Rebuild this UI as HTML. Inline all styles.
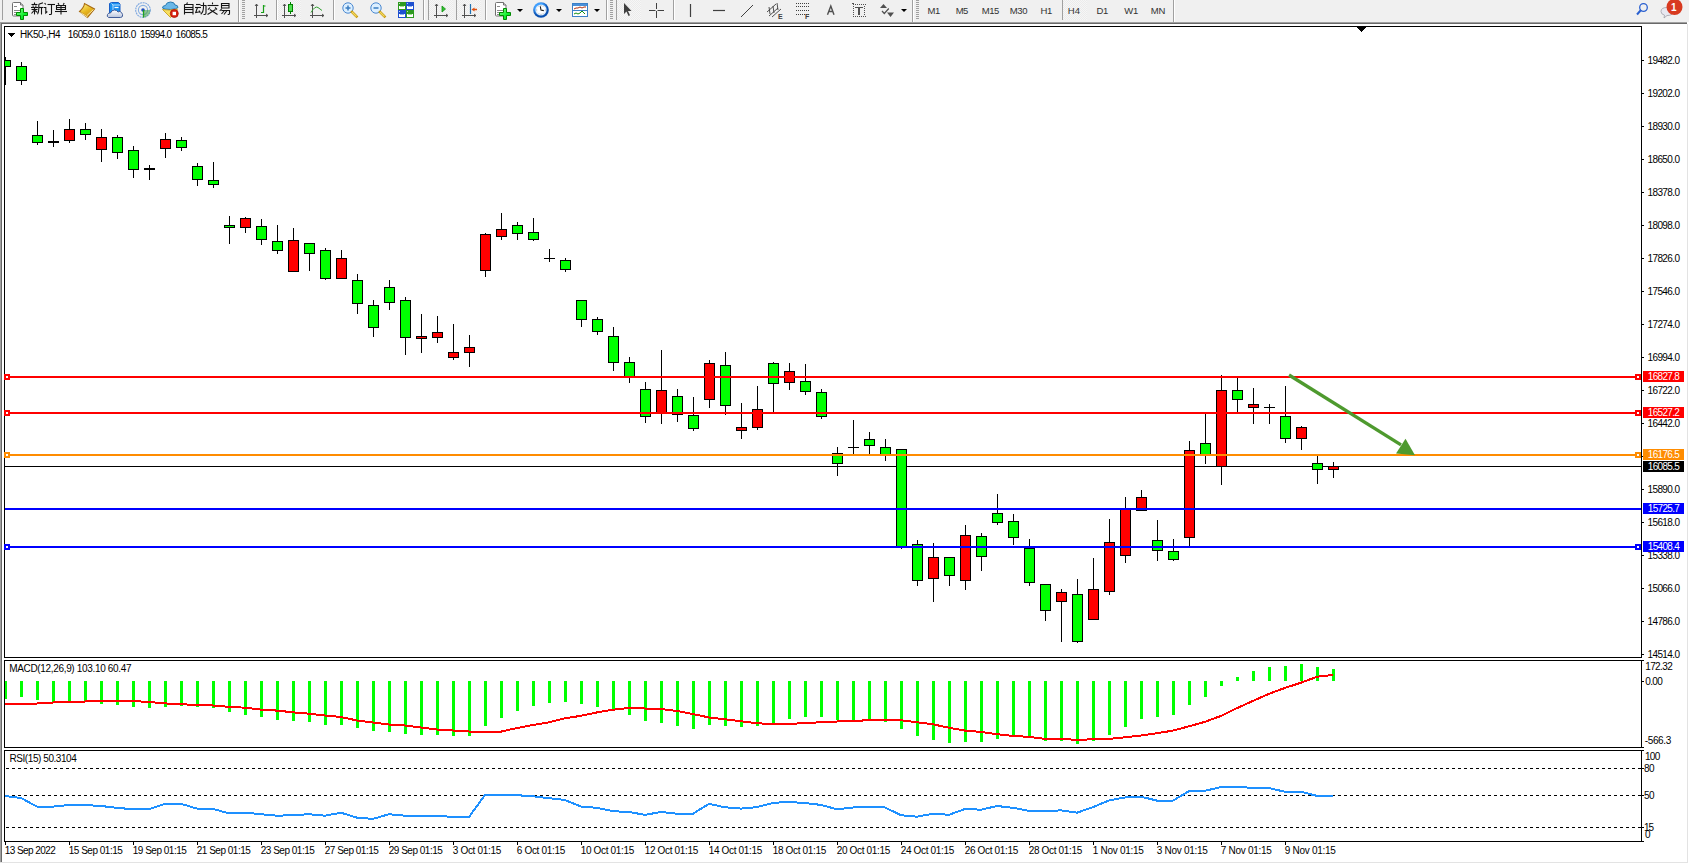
<!DOCTYPE html>
<html><head><meta charset="utf-8"><title>MT4 HK50 H4</title>
<style>
html,body{margin:0;padding:0;background:#f0f0f0;width:1689px;height:864px;overflow:hidden;}
svg{display:block;}
text{font-family:"Liberation Sans",sans-serif;}
</style></head><body>
<svg width="1689" height="864" viewBox="0 0 1689 864">
<rect x="0" y="0" width="1689" height="22" fill="#f0f0f0"/>
<defs><pattern id="chk" width="2" height="2" patternUnits="userSpaceOnUse"><rect width="2" height="2" fill="#f6f6f6"/><rect width="1" height="1" fill="#ebebeb"/><rect x="1" y="1" width="1" height="1" fill="#ebebeb"/></pattern><linearGradient id="gplus" x1="0" y1="0" x2="1" y2="1"><stop offset="0" stop-color="#90ff90"/><stop offset="0.6" stop-color="#10f030"/><stop offset="1" stop-color="#00c020"/></linearGradient><linearGradient id="gold" x1="0.2" y1="0" x2="0.8" y2="1"><stop offset="0" stop-color="#fff080"/><stop offset="0.5" stop-color="#e8b820"/><stop offset="1" stop-color="#c88810"/></linearGradient><linearGradient id="cloud" x1="0" y1="0" x2="0" y2="1"><stop offset="0" stop-color="#ffffff"/><stop offset="1" stop-color="#b8c4dc"/></linearGradient><radialGradient id="ring" cx="0.4" cy="0.35"><stop offset="0.6" stop-color="#40a0ff"/><stop offset="1" stop-color="#0a50b0"/></radialGradient><radialGradient id="gclock"><stop offset="0.6" stop-color="#ffffff"/><stop offset="1" stop-color="#d0e4f8"/></radialGradient></defs>
<rect x="2" y="0" width="1" height="20" fill="#a0a0a0"/>
<path d="M12.5,3.5 q0,-1 1,-1 h7 l2.5,2.5 v10 q0,1 -1,1 h-8.5 q-1,0 -1,-1 z" fill="#fff" stroke="#707070" stroke-width="1"/>
<path d="M20.5,2.5 v2.5 h2.5" fill="#e0e0e0" stroke="#707070" stroke-width="1"/>
<path d="M14,6.5 h3 M14,10.5 h6 M14,12.5 h5 M14,14.5 h3" stroke="#8a8a8a" stroke-width="1"/>
<path d="M20.5,8.5 h3 v4 h4 v3 h-4 v4 h-3 v-4 h-4 v-3 h4 z" fill="url(#gplus)" stroke="#008a00" stroke-width="1"/>
<g fill="none" stroke="#141414" stroke-width="1.1" stroke-linecap="butt">
<path d="M34.5,2.5 v1.5"/>
<path d="M31.5,4.5 h6"/>
<path d="M32.8,5.5 l0.6,1.3 M36.2,5.5 l-0.6,1.3"/>
<path d="M31,7.5 h7"/>
<path d="M31.5,9.5 h6"/>
<path d="M34.5,7.5 v7"/>
<path d="M34,10.5 l-2.5,3 M35,10.5 l2.5,2"/>
<path d="M43,2.8 l-4.2,1.5"/>
<path d="M38.8,4.2 v4.5 q0,3.5 -1.3,5.5"/>
<path d="M38.8,7.5 h4.7"/>
<path d="M41.5,7.5 v7"/>
</g>
<g fill="none" stroke="#141414" stroke-width="1.1" stroke-linecap="butt">
<path d="M44.6,3 l1.2,1.5"/>
<path d="M44,7.5 h1.8 v5.5 l1.5,-1.5"/>
<path d="M47.5,4.5 h7.5"/>
<path d="M51.5,4.5 v9 q0,1 -1,1 h-1.5"/>
</g>
<g fill="none" stroke="#141414" stroke-width="1.1" stroke-linecap="butt">
<path d="M58,3 l1,1.8 M64.2,3 l-1,1.8"/>
<path d="M56.5,5.5 h9 v4 h-9 z"/>
<path d="M56.5,7.5 h9"/>
<path d="M55,11.5 h12"/>
<path d="M61,5.5 v9"/>
</g>
<path d="M84.5,3.5 q-0.5,4 -5,8 l8,6 l7,-8.5 z" fill="url(#gold)" stroke="#a86a10" stroke-width="1.1"/>
<path d="M80.5,12.5 l7,4.5 M87,15.5 l6.5,-6" fill="none" stroke="#f8e8a0" stroke-width="1"/>
<path d="M109.5,3.5 l2,-1 h7 l1.5,1.5 v9 h-10.5 z" fill="#1a90f0" stroke="#1a60c8" stroke-width="1"/>
<path d="M111.5,3.5 l1.5,1.5 v8 M113,5 h7" fill="none" stroke="#c8e8ff" stroke-width="0.9"/>
<path d="M114.5,7.5 h4" stroke="#ffffff" stroke-width="1.2"/>
<path d="M108.5,17.5 q-2,-1 -1,-3 q1,-2 3,-1.5 q1,-3 4,-3 q2.5,0 3.5,2 q2,-1.5 3.5,0.5 q1.5,2 1,3.5 q-0.5,1.5 -2,1.5 z" fill="url(#cloud)" stroke="#405c98" stroke-width="1"/>
<circle cx="143" cy="10" r="7.3" fill="none" stroke="#7fa8e0" stroke-width="1.1" stroke-dasharray="2,0.6"/>
<circle cx="143" cy="10" r="4.6" fill="none" stroke="#88b0e0" stroke-width="1.1"/>
<path d="M143,10 v7.5 a7.5,7.5 0 0,0 7.3,-7.5 z" fill="#3aa040" opacity="0.55"/>
<circle cx="143" cy="10" r="1.8" fill="#2050c0"/>
<path d="M143.5,10 v7.5" stroke="#20a020" stroke-width="1.3"/>
<path d="M162.5,8 q0,-2.5 3,-2.5 q1,-3.5 5,-3.5 q4,0 4.5,3 q3,0 3,2.5 q-1,1.5 -7.5,2 q-7,0 -8,-1.5 z" fill="#6ab8e8" stroke="#2a7ab0" stroke-width="1"/>
<path d="M162.5,9.5 q6,1.5 15,-0.5 l-7,8.5 z" fill="#f8e060" stroke="#c8a020" stroke-width="0.9"/>
<circle cx="174.3" cy="13.5" r="4" fill="#d82010" stroke="#b01000" stroke-width="0.8"/><rect x="172.6" y="11.8" width="3.4" height="3.4" fill="#fff"/>
<g fill="none" stroke="#141414" stroke-width="1.1" stroke-linecap="butt">
<path d="M187.5,2.5 l-0.8,1.6"/>
<path d="M184.5,4.5 h8.5 v10 M184.5,4.5 v10"/>
<path d="M184.5,7.5 h8.5"/>
<path d="M184.5,9.5 h8.5"/>
<path d="M184.5,12.5 h8.5"/>
</g>
<g fill="none" stroke="#141414" stroke-width="1.1" stroke-linecap="butt">
<path d="M196,4.5 h4.5"/>
<path d="M195,7.5 h6"/>
<path d="M197.5,7.5 l-1.8,5 l4.5,-0.8"/>
<path d="M199,10.5 l1.3,2.2"/>
<path d="M200.5,5.5 h5.5 v7.5 q0,1.5 -1.5,1.5 h-1"/>
<path d="M203.5,2.5 v4.5 q0,5 -2.8,7.2"/>
</g>
<g fill="none" stroke="#141414" stroke-width="1.1" stroke-linecap="butt">
<path d="M212.5,2.5 v1.8"/>
<path d="M207.5,5.5 h11"/>
<path d="M210,7.5 l-2,2.2"/>
<path d="M215,7.5 l2,2"/>
<path d="M209.8,9.5 l7.7,5"/>
<path d="M215.5,9.5 l-8,5"/>
</g>
<g fill="none" stroke="#141414" stroke-width="1.1" stroke-linecap="butt">
<path d="M221.5,3.5 h7.5 v4.5 h-7.5 z"/>
<path d="M221.5,5.5 h7.5"/>
<path d="M222,8.5 l-2.3,2.5"/>
<path d="M221.3,10.5 h8.2 v3 q0,1 -1,1 h-0.8"/>
<path d="M224.5,10.5 l-3,3.5"/>
<path d="M227,10.5 l-3,4"/>
</g>
<rect x="238" y="0" width="1" height="22" fill="#a0a0a0"/>
<rect x="239" y="0" width="1" height="22" fill="#ffffff"/>
<rect x="242" y="0" width="3" height="1" fill="#a0a0a0"/>
<rect x="242" y="2" width="3" height="1" fill="#a0a0a0"/>
<rect x="242" y="4" width="3" height="1" fill="#a0a0a0"/>
<rect x="242" y="6" width="3" height="1" fill="#a0a0a0"/>
<rect x="242" y="8" width="3" height="1" fill="#a0a0a0"/>
<rect x="242" y="10" width="3" height="1" fill="#a0a0a0"/>
<rect x="242" y="12" width="3" height="1" fill="#a0a0a0"/>
<rect x="242" y="14" width="3" height="1" fill="#a0a0a0"/>
<rect x="242" y="16" width="3" height="1" fill="#a0a0a0"/>
<rect x="242" y="18" width="3" height="1" fill="#a0a0a0"/>
<path d="M256.5,4 v14 M254,15.5 h14" stroke="#505050" stroke-width="1"/>
<path d="M255,6 l1.5,-2 l1.5,2 M266,14 l2,1.5 l-2,1.5" fill="#505050" stroke="#505050" stroke-width="0.8"/>
<path d="M263.5,5 v8 M263.5,6 h2 M261,12.5 h2.5" stroke="#18a018" stroke-width="1.2"/>
<rect x="276" y="0" width="1" height="20" fill="#a0a0a0"/>
<rect x="277" y="0" width="1" height="20" fill="#ffffff"/>
<rect x="278" y="0" width="23" height="20" fill="url(#chk)"/>
<path d="M284.5,4 v14 M282,15.5 h14" stroke="#505050" stroke-width="1"/>
<path d="M283,6 l1.5,-2 l1.5,2 M294,14 l2,1.5 l-2,1.5" fill="#505050" stroke="#505050" stroke-width="0.8"/>
<path d="M290.5,2 v12" stroke="#008000" stroke-width="1"/><rect x="288.5" y="4.5" width="4" height="7" fill="#50e050" stroke="#008000" stroke-width="1"/>
<path d="M312.5,4 v14 M310,15.5 h14" stroke="#505050" stroke-width="1"/>
<path d="M311,6 l1.5,-2 l1.5,2 M322,14 l2,1.5 l-2,1.5" fill="#505050" stroke="#505050" stroke-width="0.8"/>
<path d="M311,12.5 q4,-7 7,-5 q2,1.5 4,3" fill="none" stroke="#30a030" stroke-width="1"/>
<rect x="333" y="0" width="1" height="20" fill="#a0a0a0"/>
<rect x="334" y="0" width="1" height="20" fill="#ffffff"/>
<circle cx="348" cy="8" r="5.2" fill="#dcefff" stroke="#4a88d0" stroke-width="1"/>
<path d="M352,12 l4.5,4.5" stroke="#c89a10" stroke-width="2.6" stroke-linecap="square"/>
<path d="M352,12 l4.5,4.5" stroke="#f0d860" stroke-width="1.2"/>
<path d="M345.5,8 h5" stroke="#3a7cc0" stroke-width="1.5"/>
<path d="M348,5.5 v5" stroke="#3a7cc0" stroke-width="1.5"/>
<circle cx="376" cy="8" r="5.2" fill="#dcefff" stroke="#4a88d0" stroke-width="1"/>
<path d="M380,12 l4.5,4.5" stroke="#c89a10" stroke-width="2.6" stroke-linecap="square"/>
<path d="M380,12 l4.5,4.5" stroke="#f0d860" stroke-width="1.2"/>
<path d="M373.5,8 h5" stroke="#3a7cc0" stroke-width="1.5"/>
<rect x="398" y="2" width="8" height="8" fill="#2e9a20"/><rect x="399" y="6" width="6" height="3" fill="#ffffff"/><rect x="400" y="6" width="4" height="1" fill="#a0e090"/><rect x="399" y="3" width="1" height="1" fill="#ffffff" opacity="0.7"/>
<rect x="406" y="2" width="8" height="8" fill="#1e50d0"/><rect x="407" y="6" width="6" height="3" fill="#ffffff"/><rect x="408" y="6" width="4" height="1" fill="#90b0f0"/><rect x="407" y="3" width="1" height="1" fill="#ffffff" opacity="0.7"/>
<rect x="398" y="10" width="8" height="8" fill="#1e50d0"/><rect x="399" y="14" width="6" height="3" fill="#ffffff"/><rect x="400" y="14" width="4" height="1" fill="#90b0f0"/><rect x="399" y="11" width="1" height="1" fill="#ffffff" opacity="0.7"/>
<rect x="406" y="10" width="8" height="8" fill="#2e9a20"/><rect x="407" y="14" width="6" height="3" fill="#ffffff"/><rect x="408" y="14" width="4" height="1" fill="#a0e090"/><rect x="407" y="11" width="1" height="1" fill="#ffffff" opacity="0.7"/>
<rect x="423" y="0" width="1" height="20" fill="#a0a0a0"/>
<rect x="424" y="0" width="1" height="20" fill="#ffffff"/>
<rect x="428" y="0" width="1" height="20" fill="#a0a0a0"/>
<rect x="429" y="0" width="24" height="20" fill="url(#chk)"/>
<path d="M436.5,4 v14 M434,15.5 h14" stroke="#505050" stroke-width="1"/>
<path d="M435,6 l1.5,-2 l1.5,2 M446,14 l2,1.5 l-2,1.5" fill="#505050" stroke="#505050" stroke-width="0.8"/>
<path d="M442,6 l3.5,3 l-3.5,3 z" fill="#30c030" stroke="#109010" stroke-width="0.8"/>
<rect x="456" y="0" width="1" height="20" fill="#a0a0a0"/>
<rect x="457" y="0" width="24" height="20" fill="url(#chk)"/>
<path d="M464.5,4 v14 M462,15.5 h14" stroke="#505050" stroke-width="1"/>
<path d="M463,6 l1.5,-2 l1.5,2 M474,14 l2,1.5 l-2,1.5" fill="#505050" stroke="#505050" stroke-width="0.8"/>
<path d="M470.5,4 v10" stroke="#2070b0" stroke-width="1.2"/><path d="M471.5,9.5 l3,-2 v1.2 h2.5 v1.6 h-2.5 v1.2 z" fill="#e05010"/>
<rect x="485" y="0" width="1" height="20" fill="#a0a0a0"/>
<rect x="486" y="0" width="1" height="20" fill="#ffffff"/>
<path d="M495.5,3.5 q0,-1 1,-1 h7 l2.5,2.5 v10 q0,1 -1,1 h-8.5 q-1,0 -1,-1 z" fill="#fff" stroke="#707070" stroke-width="1"/>
<path d="M503.5,2.5 v2.5 h2.5" fill="#e0e0e0" stroke="#707070" stroke-width="1"/>
<path d="M497,6.5 h3 M497,10.5 h6 M497,12.5 h5 M497,14.5 h3" stroke="#8a8a8a" stroke-width="1"/>
<path d="M503.5,8.5 h3 v4 h4 v3 h-4 v4 h-3 v-4 h-4 v-3 h4 z" fill="url(#gplus)" stroke="#008a00" stroke-width="1"/>
<polygon points="517,9 523,9 520,12" fill="#000"/>
<circle cx="541" cy="10" r="7.8" fill="url(#ring)"/><circle cx="541" cy="10" r="5.6" fill="url(#gclock)"/>
<path d="M541,5.2 v1 M541,13.8 v1 M536.2,10 h1 M544.8,10 h1 M538.5,5.8 l0.4,0.7 M543.5,5.8 l-0.4,0.7 M538.5,14.2 l0.4,-0.7 M543.5,14.2 l-0.4,-0.7" stroke="#909090" stroke-width="0.7"/>
<path d="M540.3,6.3 l0.7,3.7 l2.8,0.6" stroke="#181818" stroke-width="1.1" fill="none"/>
<polygon points="556,9 562,9 559,12" fill="#000"/>
<rect x="572.5" y="3.5" width="15" height="13" fill="#fff" stroke="#3a80c8" stroke-width="1"/><rect x="573" y="4" width="14" height="2" fill="#4a90d8"/><rect x="573" y="10" width="14" height="1" fill="#3a80c8"/>
<path d="M574,9 l2,-1 l2,0 l2,-1 l2,1 l2,-1 l2,0" fill="none" stroke="#b03010" stroke-width="1"/>
<path d="M574,14 l2,-1 l2,1 l2,-1 l2,-2 l3,3" fill="none" stroke="#109010" stroke-width="1"/>
<polygon points="594,9 600,9 597,12" fill="#000"/>
<rect x="606" y="0" width="1" height="20" fill="#a0a0a0"/>
<rect x="607" y="0" width="1" height="20" fill="#ffffff"/>
<rect x="610" y="0" width="3" height="1" fill="#a0a0a0"/>
<rect x="610" y="2" width="3" height="1" fill="#a0a0a0"/>
<rect x="610" y="4" width="3" height="1" fill="#a0a0a0"/>
<rect x="610" y="6" width="3" height="1" fill="#a0a0a0"/>
<rect x="610" y="8" width="3" height="1" fill="#a0a0a0"/>
<rect x="610" y="10" width="3" height="1" fill="#a0a0a0"/>
<rect x="610" y="12" width="3" height="1" fill="#a0a0a0"/>
<rect x="610" y="14" width="3" height="1" fill="#a0a0a0"/>
<rect x="610" y="16" width="3" height="1" fill="#a0a0a0"/>
<rect x="610" y="18" width="3" height="1" fill="#a0a0a0"/>
<rect x="616" y="0" width="1" height="20" fill="#a0a0a0"/>
<rect x="617" y="0" width="24" height="20" fill="url(#chk)"/>
<path d="M624,3 v11 l2.5,-2.5 l2,4.5 l1.5,-0.8 l-2,-4.3 h3.5 z" fill="#404040"/>
<path d="M656.5,3 v6 M656.5,11 v7 M649,10.5 h6.5 M657.5,10.5 h6.5" stroke="#404040" stroke-width="1"/>
<rect x="673" y="0" width="1" height="20" fill="#a0a0a0"/>
<rect x="674" y="0" width="1" height="20" fill="#ffffff"/>
<path d="M690.5,4 v13" stroke="#404040" stroke-width="1.2"/>
<path d="M713,10.5 h12" stroke="#404040" stroke-width="1.2"/>
<path d="M741,17 l12,-12" stroke="#404040" stroke-width="1"/>
<path d="M767,12 l9,-8 M769,16 l9,-8 M772,17 l9,-8 M769,7 l1,7 M773,6 l1,7 M777,3 l1,7" stroke="#404040" stroke-width="0.9"/>
<text x="778" y="19" font-family="'Liberation Sans', sans-serif" font-size="7" font-weight="bold" fill="#404040">E</text>
<path d="M796,3.5 h13" stroke="#404040" stroke-width="1" stroke-dasharray="1,1"/>
<path d="M796,6.5 h13" stroke="#404040" stroke-width="1" stroke-dasharray="1,1"/>
<path d="M796,10.5 h13" stroke="#404040" stroke-width="1" stroke-dasharray="1,1"/>
<path d="M796,14.5 h13" stroke="#404040" stroke-width="1" stroke-dasharray="1,1"/>
<text x="805" y="19" font-family="'Liberation Sans', sans-serif" font-size="7" font-weight="bold" fill="#404040">F</text>
<path d="M827.5,14.8 L830.8,6 L834,14.8 M828.8,11.5 h4" fill="none" stroke="#505050" stroke-width="1.4"/>
<rect x="853" y="4" width="1" height="1" fill="#505050"/>
<rect x="853" y="16" width="1" height="1" fill="#505050"/>
<rect x="855" y="4" width="1" height="1" fill="#505050"/>
<rect x="855" y="16" width="1" height="1" fill="#505050"/>
<rect x="857" y="4" width="1" height="1" fill="#505050"/>
<rect x="857" y="16" width="1" height="1" fill="#505050"/>
<rect x="859" y="4" width="1" height="1" fill="#505050"/>
<rect x="859" y="16" width="1" height="1" fill="#505050"/>
<rect x="861" y="4" width="1" height="1" fill="#505050"/>
<rect x="861" y="16" width="1" height="1" fill="#505050"/>
<rect x="863" y="4" width="1" height="1" fill="#505050"/>
<rect x="863" y="16" width="1" height="1" fill="#505050"/>
<rect x="865" y="4" width="1" height="1" fill="#505050"/>
<rect x="865" y="16" width="1" height="1" fill="#505050"/>
<rect x="853" y="6" width="1" height="1" fill="#505050"/>
<rect x="864" y="6" width="1" height="1" fill="#505050"/>
<rect x="853" y="8" width="1" height="1" fill="#505050"/>
<rect x="864" y="8" width="1" height="1" fill="#505050"/>
<rect x="853" y="10" width="1" height="1" fill="#505050"/>
<rect x="864" y="10" width="1" height="1" fill="#505050"/>
<rect x="853" y="12" width="1" height="1" fill="#505050"/>
<rect x="864" y="12" width="1" height="1" fill="#505050"/>
<rect x="853" y="14" width="1" height="1" fill="#505050"/>
<rect x="864" y="14" width="1" height="1" fill="#505050"/>
<rect x="852" y="3" width="2" height="1" fill="#505050"/>
<rect x="855" y="7" width="8" height="1" fill="#505050"/>
<rect x="858" y="7" width="2" height="8" fill="#505050"/>
<path d="M880,8 l3.5,-4 l3.5,4 z M887,12.5 l3.5,4.5 l3.5,-4.5 z" fill="#505050"/><path d="M882,11 l2.3,2.5 l4.5,-5" fill="none" stroke="#505050" stroke-width="1.2"/>
<polygon points="901,9 907,9 904,12" fill="#000"/>
<rect x="912" y="0" width="1" height="22" fill="#a0a0a0"/>
<rect x="913" y="0" width="1" height="22" fill="#ffffff"/>
<rect x="916" y="0" width="3" height="1" fill="#a0a0a0"/>
<rect x="916" y="2" width="3" height="1" fill="#a0a0a0"/>
<rect x="916" y="4" width="3" height="1" fill="#a0a0a0"/>
<rect x="916" y="6" width="3" height="1" fill="#a0a0a0"/>
<rect x="916" y="8" width="3" height="1" fill="#a0a0a0"/>
<rect x="916" y="10" width="3" height="1" fill="#a0a0a0"/>
<rect x="916" y="12" width="3" height="1" fill="#a0a0a0"/>
<rect x="916" y="14" width="3" height="1" fill="#a0a0a0"/>
<rect x="916" y="16" width="3" height="1" fill="#a0a0a0"/>
<rect x="916" y="18" width="3" height="1" fill="#a0a0a0"/>
<text x="927.6" y="14" font-family="'Liberation Sans', sans-serif" font-size="9.5" fill="#333" textLength="12.6" lengthAdjust="spacing">M1</text>
<text x="955.7" y="14" font-family="'Liberation Sans', sans-serif" font-size="9.5" fill="#333" textLength="12.7" lengthAdjust="spacing">M5</text>
<text x="981.8" y="14" font-family="'Liberation Sans', sans-serif" font-size="9.5" fill="#333" textLength="17.5" lengthAdjust="spacing">M15</text>
<text x="1009.7" y="14" font-family="'Liberation Sans', sans-serif" font-size="9.5" fill="#333" textLength="17.8" lengthAdjust="spacing">M30</text>
<text x="1040.6" y="14" font-family="'Liberation Sans', sans-serif" font-size="9.5" fill="#333" textLength="11.6" lengthAdjust="spacing">H1</text>
<rect x="1062" y="0" width="1" height="20" fill="#a0a0a0"/>
<rect x="1063" y="0" width="24" height="20" fill="url(#chk)"/>
<text x="1067.8" y="14" font-family="'Liberation Sans', sans-serif" font-size="9.5" fill="#333" textLength="12.2" lengthAdjust="spacing">H4</text>
<text x="1096.6" y="14" font-family="'Liberation Sans', sans-serif" font-size="9.5" fill="#333" textLength="11.7" lengthAdjust="spacing">D1</text>
<text x="1124.3" y="14" font-family="'Liberation Sans', sans-serif" font-size="9.5" fill="#333" textLength="14.0" lengthAdjust="spacing">W1</text>
<text x="1150.8" y="14" font-family="'Liberation Sans', sans-serif" font-size="9.5" fill="#333" textLength="14.5" lengthAdjust="spacing">MN</text>
<rect x="1173" y="0" width="1" height="22" fill="#a0a0a0"/>
<rect x="1174" y="0" width="1" height="22" fill="#ffffff"/>
<circle cx="1643.5" cy="7.5" r="3.8" fill="none" stroke="#2a60d0" stroke-width="1.3"/><path d="M1641,10 l-4,4.5" stroke="#2a60d0" stroke-width="2"/>
<path d="M1661,11.5 q0,-4 6,-4 q6,0 6,4 q0,4 -6,4 l-3,2.5 l0.5,-2.8 q-3.5,-1 -3.5,-3.7 z" fill="#e8e8f0" stroke="#a0a0a8" stroke-width="0.8"/>
<circle cx="1674.5" cy="7" r="8" fill="#d83a20"/>
<text x="1671" y="11" font-family="'Liberation Sans', sans-serif" font-size="10" font-weight="bold" fill="#fff">1</text>
<rect x="0" y="22" width="1689" height="842" fill="#ffffff"/>
<rect x="0" y="22" width="1687" height="1" fill="#a0a0a0"/>
<rect x="0" y="23" width="1687" height="1" fill="#696969"/>
<rect x="0" y="22" width="1" height="840" fill="#a0a0a0"/>
<rect x="1" y="23" width="1" height="839" fill="#696969"/>
<rect x="1687" y="24" width="1" height="839" fill="#e3e3e3"/>
<rect x="0" y="862" width="1688" height="1" fill="#e3e3e3"/>
<rect x="4" y="26" width="1638" height="1" fill="#000"/>
<rect x="4" y="657" width="1638" height="1" fill="#000"/>
<rect x="4" y="26" width="1" height="632" fill="#000"/>
<rect x="1641" y="26" width="1" height="632" fill="#000"/>
<rect x="4" y="660" width="1638" height="1" fill="#000"/>
<rect x="4" y="747" width="1638" height="1" fill="#000"/>
<rect x="4" y="660" width="1" height="88" fill="#000"/>
<rect x="1641" y="660" width="1" height="88" fill="#000"/>
<rect x="4" y="750" width="1638" height="1" fill="#000"/>
<rect x="4" y="841" width="1638" height="1" fill="#000"/>
<rect x="4" y="750" width="1" height="92" fill="#000"/>
<rect x="1641" y="750" width="1" height="92" fill="#000"/>
<defs><clipPath id="cm"><rect x="5" y="27" width="1636" height="630"/></clipPath><clipPath id="cmacd"><rect x="5" y="661" width="1636" height="86"/></clipPath><clipPath id="crsi"><rect x="5" y="751" width="1636" height="90"/></clipPath></defs>
<g clip-path="url(#cm)">
<rect x="5" y="466" width="1636" height="1" fill="#000"/>
<rect x="5" y="57" width="1" height="28" fill="#000"/>
<rect x="0" y="60" width="11" height="7" fill="#000"/>
<rect x="1" y="61" width="9" height="5" fill="#00ff00"/>
<rect x="21" y="62" width="1" height="23" fill="#000"/>
<rect x="16" y="66" width="11" height="15" fill="#000"/>
<rect x="17" y="67" width="9" height="13" fill="#00ff00"/>
<rect x="37" y="121" width="1" height="24" fill="#000"/>
<rect x="32" y="135" width="11" height="8" fill="#000"/>
<rect x="33" y="136" width="9" height="6" fill="#00ff00"/>
<rect x="53" y="130" width="1" height="17" fill="#000"/>
<rect x="48" y="141" width="11" height="2" fill="#000"/>
<rect x="69" y="119" width="1" height="24" fill="#000"/>
<rect x="64" y="129" width="11" height="12" fill="#000"/>
<rect x="65" y="130" width="9" height="10" fill="#ff0000"/>
<rect x="85" y="123" width="1" height="17" fill="#000"/>
<rect x="80" y="129" width="11" height="6" fill="#000"/>
<rect x="81" y="130" width="9" height="4" fill="#00ff00"/>
<rect x="101" y="129" width="1" height="33" fill="#000"/>
<rect x="96" y="137" width="11" height="13" fill="#000"/>
<rect x="97" y="138" width="9" height="11" fill="#ff0000"/>
<rect x="117" y="135" width="1" height="24" fill="#000"/>
<rect x="112" y="137" width="11" height="16" fill="#000"/>
<rect x="113" y="138" width="9" height="14" fill="#00ff00"/>
<rect x="133" y="146" width="1" height="32" fill="#000"/>
<rect x="128" y="150" width="11" height="20" fill="#000"/>
<rect x="129" y="151" width="9" height="18" fill="#00ff00"/>
<rect x="149" y="165" width="1" height="15" fill="#000"/>
<rect x="144" y="168" width="11" height="2" fill="#000"/>
<rect x="165" y="133" width="1" height="25" fill="#000"/>
<rect x="160" y="139" width="11" height="10" fill="#000"/>
<rect x="161" y="140" width="9" height="8" fill="#ff0000"/>
<rect x="181" y="137" width="1" height="14" fill="#000"/>
<rect x="176" y="140" width="11" height="8" fill="#000"/>
<rect x="177" y="141" width="9" height="6" fill="#00ff00"/>
<rect x="197" y="163" width="1" height="23" fill="#000"/>
<rect x="192" y="166" width="11" height="14" fill="#000"/>
<rect x="193" y="167" width="9" height="12" fill="#00ff00"/>
<rect x="213" y="162" width="1" height="26" fill="#000"/>
<rect x="208" y="180" width="11" height="5" fill="#000"/>
<rect x="209" y="181" width="9" height="3" fill="#00ff00"/>
<rect x="229" y="216" width="1" height="28" fill="#000"/>
<rect x="224" y="225" width="11" height="3" fill="#000"/>
<rect x="225" y="226" width="9" height="1" fill="#00ff00"/>
<rect x="245" y="217" width="1" height="16" fill="#000"/>
<rect x="240" y="218" width="11" height="10" fill="#000"/>
<rect x="241" y="219" width="9" height="8" fill="#ff0000"/>
<rect x="261" y="219" width="1" height="26" fill="#000"/>
<rect x="256" y="226" width="11" height="14" fill="#000"/>
<rect x="257" y="227" width="9" height="12" fill="#00ff00"/>
<rect x="277" y="225" width="1" height="29" fill="#000"/>
<rect x="272" y="241" width="11" height="10" fill="#000"/>
<rect x="273" y="242" width="9" height="8" fill="#00ff00"/>
<rect x="293" y="228" width="1" height="44" fill="#000"/>
<rect x="288" y="240" width="11" height="32" fill="#000"/>
<rect x="289" y="241" width="9" height="30" fill="#ff0000"/>
<rect x="309" y="243" width="1" height="28" fill="#000"/>
<rect x="304" y="243" width="11" height="11" fill="#000"/>
<rect x="305" y="244" width="9" height="9" fill="#00ff00"/>
<rect x="325" y="248" width="1" height="32" fill="#000"/>
<rect x="320" y="250" width="11" height="29" fill="#000"/>
<rect x="321" y="251" width="9" height="27" fill="#00ff00"/>
<rect x="341" y="250" width="1" height="29" fill="#000"/>
<rect x="336" y="258" width="11" height="21" fill="#000"/>
<rect x="337" y="259" width="9" height="19" fill="#ff0000"/>
<rect x="357" y="274" width="1" height="40" fill="#000"/>
<rect x="352" y="280" width="11" height="24" fill="#000"/>
<rect x="353" y="281" width="9" height="22" fill="#00ff00"/>
<rect x="373" y="300" width="1" height="37" fill="#000"/>
<rect x="368" y="305" width="11" height="23" fill="#000"/>
<rect x="369" y="306" width="9" height="21" fill="#00ff00"/>
<rect x="389" y="280" width="1" height="30" fill="#000"/>
<rect x="384" y="287" width="11" height="16" fill="#000"/>
<rect x="385" y="288" width="9" height="14" fill="#00ff00"/>
<rect x="405" y="297" width="1" height="58" fill="#000"/>
<rect x="400" y="300" width="11" height="38" fill="#000"/>
<rect x="401" y="301" width="9" height="36" fill="#00ff00"/>
<rect x="421" y="314" width="1" height="39" fill="#000"/>
<rect x="416" y="336" width="11" height="3" fill="#000"/>
<rect x="417" y="337" width="9" height="1" fill="#ff0000"/>
<rect x="437" y="316" width="1" height="27" fill="#000"/>
<rect x="432" y="332" width="11" height="6" fill="#000"/>
<rect x="433" y="333" width="9" height="4" fill="#ff0000"/>
<rect x="453" y="324" width="1" height="36" fill="#000"/>
<rect x="448" y="352" width="11" height="6" fill="#000"/>
<rect x="449" y="353" width="9" height="4" fill="#ff0000"/>
<rect x="469" y="335" width="1" height="32" fill="#000"/>
<rect x="464" y="347" width="11" height="6" fill="#000"/>
<rect x="465" y="348" width="9" height="4" fill="#ff0000"/>
<rect x="485" y="233" width="1" height="44" fill="#000"/>
<rect x="480" y="234" width="11" height="37" fill="#000"/>
<rect x="481" y="235" width="9" height="35" fill="#ff0000"/>
<rect x="501" y="213" width="1" height="27" fill="#000"/>
<rect x="496" y="229" width="11" height="8" fill="#000"/>
<rect x="497" y="230" width="9" height="6" fill="#ff0000"/>
<rect x="517" y="222" width="1" height="18" fill="#000"/>
<rect x="512" y="225" width="11" height="9" fill="#000"/>
<rect x="513" y="226" width="9" height="7" fill="#00ff00"/>
<rect x="533" y="218" width="1" height="23" fill="#000"/>
<rect x="528" y="232" width="11" height="8" fill="#000"/>
<rect x="529" y="233" width="9" height="6" fill="#00ff00"/>
<rect x="549" y="249" width="1" height="13" fill="#000"/>
<rect x="544" y="258" width="11" height="1" fill="#000"/>
<rect x="565" y="258" width="1" height="14" fill="#000"/>
<rect x="560" y="260" width="11" height="10" fill="#000"/>
<rect x="561" y="261" width="9" height="8" fill="#00ff00"/>
<rect x="581" y="300" width="1" height="27" fill="#000"/>
<rect x="576" y="300" width="11" height="20" fill="#000"/>
<rect x="577" y="301" width="9" height="18" fill="#00ff00"/>
<rect x="597" y="317" width="1" height="18" fill="#000"/>
<rect x="592" y="319" width="11" height="13" fill="#000"/>
<rect x="593" y="320" width="9" height="11" fill="#00ff00"/>
<rect x="613" y="327" width="1" height="44" fill="#000"/>
<rect x="608" y="336" width="11" height="27" fill="#000"/>
<rect x="609" y="337" width="9" height="25" fill="#00ff00"/>
<rect x="629" y="357" width="1" height="26" fill="#000"/>
<rect x="624" y="362" width="11" height="16" fill="#000"/>
<rect x="625" y="363" width="9" height="14" fill="#00ff00"/>
<rect x="645" y="382" width="1" height="41" fill="#000"/>
<rect x="640" y="389" width="11" height="28" fill="#000"/>
<rect x="641" y="390" width="9" height="26" fill="#00ff00"/>
<rect x="661" y="350" width="1" height="74" fill="#000"/>
<rect x="656" y="390" width="11" height="24" fill="#000"/>
<rect x="657" y="391" width="9" height="22" fill="#ff0000"/>
<rect x="677" y="389" width="1" height="33" fill="#000"/>
<rect x="672" y="396" width="11" height="19" fill="#000"/>
<rect x="673" y="397" width="9" height="17" fill="#00ff00"/>
<rect x="693" y="397" width="1" height="34" fill="#000"/>
<rect x="688" y="415" width="11" height="14" fill="#000"/>
<rect x="689" y="416" width="9" height="12" fill="#00ff00"/>
<rect x="709" y="360" width="1" height="48" fill="#000"/>
<rect x="704" y="363" width="11" height="37" fill="#000"/>
<rect x="705" y="364" width="9" height="35" fill="#ff0000"/>
<rect x="725" y="352" width="1" height="63" fill="#000"/>
<rect x="720" y="365" width="11" height="41" fill="#000"/>
<rect x="721" y="366" width="9" height="39" fill="#00ff00"/>
<rect x="741" y="403" width="1" height="36" fill="#000"/>
<rect x="736" y="427" width="11" height="4" fill="#000"/>
<rect x="737" y="428" width="9" height="2" fill="#ff0000"/>
<rect x="757" y="386" width="1" height="44" fill="#000"/>
<rect x="752" y="409" width="11" height="19" fill="#000"/>
<rect x="753" y="410" width="9" height="17" fill="#ff0000"/>
<rect x="773" y="362" width="1" height="50" fill="#000"/>
<rect x="768" y="363" width="11" height="21" fill="#000"/>
<rect x="769" y="364" width="9" height="19" fill="#00ff00"/>
<rect x="789" y="363" width="1" height="27" fill="#000"/>
<rect x="784" y="371" width="11" height="12" fill="#000"/>
<rect x="785" y="372" width="9" height="10" fill="#ff0000"/>
<rect x="805" y="364" width="1" height="31" fill="#000"/>
<rect x="800" y="381" width="11" height="11" fill="#000"/>
<rect x="801" y="382" width="9" height="9" fill="#00ff00"/>
<rect x="821" y="389" width="1" height="30" fill="#000"/>
<rect x="816" y="392" width="11" height="25" fill="#000"/>
<rect x="817" y="393" width="9" height="23" fill="#00ff00"/>
<rect x="837" y="447" width="1" height="29" fill="#000"/>
<rect x="832" y="453" width="11" height="11" fill="#000"/>
<rect x="833" y="454" width="9" height="9" fill="#00ff00"/>
<rect x="853" y="420" width="1" height="34" fill="#000"/>
<rect x="848" y="447" width="11" height="1" fill="#000"/>
<rect x="869" y="432" width="1" height="22" fill="#000"/>
<rect x="864" y="439" width="11" height="7" fill="#000"/>
<rect x="865" y="440" width="9" height="5" fill="#00ff00"/>
<rect x="885" y="439" width="1" height="22" fill="#000"/>
<rect x="880" y="447" width="11" height="9" fill="#000"/>
<rect x="881" y="448" width="9" height="7" fill="#00ff00"/>
<rect x="901" y="449" width="1" height="100" fill="#000"/>
<rect x="896" y="449" width="11" height="98" fill="#000"/>
<rect x="897" y="450" width="9" height="96" fill="#00ff00"/>
<rect x="917" y="540" width="1" height="46" fill="#000"/>
<rect x="912" y="544" width="11" height="37" fill="#000"/>
<rect x="913" y="545" width="9" height="35" fill="#00ff00"/>
<rect x="933" y="543" width="1" height="59" fill="#000"/>
<rect x="928" y="557" width="11" height="22" fill="#000"/>
<rect x="929" y="558" width="9" height="20" fill="#ff0000"/>
<rect x="949" y="557" width="1" height="29" fill="#000"/>
<rect x="944" y="557" width="11" height="19" fill="#000"/>
<rect x="945" y="558" width="9" height="17" fill="#00ff00"/>
<rect x="965" y="525" width="1" height="65" fill="#000"/>
<rect x="960" y="535" width="11" height="46" fill="#000"/>
<rect x="961" y="536" width="9" height="44" fill="#ff0000"/>
<rect x="981" y="533" width="1" height="38" fill="#000"/>
<rect x="976" y="536" width="11" height="21" fill="#000"/>
<rect x="977" y="537" width="9" height="19" fill="#00ff00"/>
<rect x="997" y="494" width="1" height="31" fill="#000"/>
<rect x="992" y="513" width="11" height="10" fill="#000"/>
<rect x="993" y="514" width="9" height="8" fill="#00ff00"/>
<rect x="1013" y="514" width="1" height="31" fill="#000"/>
<rect x="1008" y="521" width="11" height="17" fill="#000"/>
<rect x="1009" y="522" width="9" height="15" fill="#00ff00"/>
<rect x="1029" y="539" width="1" height="47" fill="#000"/>
<rect x="1024" y="548" width="11" height="35" fill="#000"/>
<rect x="1025" y="549" width="9" height="33" fill="#00ff00"/>
<rect x="1045" y="584" width="1" height="37" fill="#000"/>
<rect x="1040" y="584" width="11" height="27" fill="#000"/>
<rect x="1041" y="585" width="9" height="25" fill="#00ff00"/>
<rect x="1061" y="589" width="1" height="53" fill="#000"/>
<rect x="1056" y="592" width="11" height="10" fill="#000"/>
<rect x="1057" y="593" width="9" height="8" fill="#ff0000"/>
<rect x="1077" y="579" width="1" height="64" fill="#000"/>
<rect x="1072" y="594" width="11" height="48" fill="#000"/>
<rect x="1073" y="595" width="9" height="46" fill="#00ff00"/>
<rect x="1093" y="558" width="1" height="62" fill="#000"/>
<rect x="1088" y="589" width="11" height="31" fill="#000"/>
<rect x="1089" y="590" width="9" height="29" fill="#ff0000"/>
<rect x="1109" y="519" width="1" height="76" fill="#000"/>
<rect x="1104" y="542" width="11" height="50" fill="#000"/>
<rect x="1105" y="543" width="9" height="48" fill="#ff0000"/>
<rect x="1125" y="497" width="1" height="66" fill="#000"/>
<rect x="1120" y="509" width="11" height="47" fill="#000"/>
<rect x="1121" y="510" width="9" height="45" fill="#ff0000"/>
<rect x="1141" y="490" width="1" height="21" fill="#000"/>
<rect x="1136" y="497" width="11" height="14" fill="#000"/>
<rect x="1137" y="498" width="9" height="12" fill="#ff0000"/>
<rect x="1157" y="520" width="1" height="41" fill="#000"/>
<rect x="1152" y="540" width="11" height="11" fill="#000"/>
<rect x="1153" y="541" width="9" height="9" fill="#00ff00"/>
<rect x="1173" y="539" width="1" height="22" fill="#000"/>
<rect x="1168" y="551" width="11" height="9" fill="#000"/>
<rect x="1169" y="552" width="9" height="7" fill="#00ff00"/>
<rect x="1189" y="441" width="1" height="105" fill="#000"/>
<rect x="1184" y="450" width="11" height="88" fill="#000"/>
<rect x="1185" y="451" width="9" height="86" fill="#ff0000"/>
<rect x="1205" y="414" width="1" height="50" fill="#000"/>
<rect x="1200" y="443" width="11" height="13" fill="#000"/>
<rect x="1201" y="444" width="9" height="11" fill="#00ff00"/>
<rect x="1221" y="375" width="1" height="110" fill="#000"/>
<rect x="1216" y="390" width="11" height="77" fill="#000"/>
<rect x="1217" y="391" width="9" height="75" fill="#ff0000"/>
<rect x="1237" y="377" width="1" height="35" fill="#000"/>
<rect x="1232" y="390" width="11" height="10" fill="#000"/>
<rect x="1233" y="391" width="9" height="8" fill="#00ff00"/>
<rect x="1253" y="388" width="1" height="36" fill="#000"/>
<rect x="1248" y="404" width="11" height="4" fill="#000"/>
<rect x="1249" y="405" width="9" height="2" fill="#ff0000"/>
<rect x="1269" y="404" width="1" height="20" fill="#000"/>
<rect x="1264" y="407" width="11" height="1" fill="#000"/>
<rect x="1285" y="386" width="1" height="57" fill="#000"/>
<rect x="1280" y="416" width="11" height="23" fill="#000"/>
<rect x="1281" y="417" width="9" height="21" fill="#00ff00"/>
<rect x="1301" y="426" width="1" height="24" fill="#000"/>
<rect x="1296" y="427" width="11" height="12" fill="#000"/>
<rect x="1297" y="428" width="9" height="10" fill="#ff0000"/>
<rect x="1317" y="456" width="1" height="28" fill="#000"/>
<rect x="1312" y="463" width="11" height="7" fill="#000"/>
<rect x="1313" y="464" width="9" height="5" fill="#00ff00"/>
<rect x="1333" y="462" width="1" height="16" fill="#000"/>
<rect x="1328" y="466" width="11" height="4" fill="#000"/>
<rect x="1329" y="467" width="9" height="2" fill="#ff0000"/>
<rect x="5" y="376" width="1636" height="2" fill="#ff0000"/>
<rect x="5" y="412" width="1636" height="2" fill="#ff0000"/>
<rect x="5" y="454" width="1636" height="2" fill="#ff8c00"/>
<rect x="5" y="508" width="1636" height="2" fill="#0000ff"/>
<rect x="5" y="546" width="1636" height="2" fill="#0000ff"/>
<line x1="1289" y1="375" x2="1401" y2="444.8" stroke="#4e9a2e" stroke-width="3.3"/>
<polygon points="1405.5,438.8 1396,453.6 1415,455.3" fill="#4e9a2e"/>
</g>
<rect x="4" y="374" width="6" height="6" fill="#ff0000"/>
<rect x="6" y="376" width="2" height="2" fill="#fff"/>
<rect x="1635" y="374" width="6" height="6" fill="#ff0000"/>
<rect x="1637" y="376" width="2" height="2" fill="#fff"/>
<rect x="4" y="410" width="6" height="6" fill="#ff0000"/>
<rect x="6" y="412" width="2" height="2" fill="#fff"/>
<rect x="1635" y="410" width="6" height="6" fill="#ff0000"/>
<rect x="1637" y="412" width="2" height="2" fill="#fff"/>
<rect x="4" y="452" width="6" height="6" fill="#ff8c00"/>
<rect x="6" y="454" width="2" height="2" fill="#fff"/>
<rect x="1635" y="452" width="6" height="6" fill="#ff8c00"/>
<rect x="1637" y="454" width="2" height="2" fill="#fff"/>
<rect x="4" y="544" width="6" height="6" fill="#0000ff"/>
<rect x="6" y="546" width="2" height="2" fill="#fff"/>
<rect x="1635" y="544" width="6" height="6" fill="#0000ff"/>
<rect x="1637" y="546" width="2" height="2" fill="#fff"/>
<rect x="8" y="33" width="7" height="1" fill="#000"/>
<rect x="9" y="34" width="5" height="1" fill="#000"/>
<rect x="10" y="35" width="3" height="1" fill="#000"/>
<rect x="11" y="36" width="1" height="1" fill="#000"/>
<text x="20" y="38" font-family="'Liberation Sans', sans-serif" font-size="10" fill="#000" textLength="40.5" lengthAdjust="spacing" xml:space="preserve">HK50-,H4</text>
<text x="67.7" y="38" font-family="'Liberation Sans', sans-serif" font-size="10" fill="#000" textLength="32.6" lengthAdjust="spacing" xml:space="preserve">16059.0</text>
<text x="103.6" y="38" font-family="'Liberation Sans', sans-serif" font-size="10" fill="#000" textLength="32.6" lengthAdjust="spacing" xml:space="preserve">16118.0</text>
<text x="140" y="38" font-family="'Liberation Sans', sans-serif" font-size="10" fill="#000" textLength="32.1" lengthAdjust="spacing" xml:space="preserve">15994.0</text>
<text x="175.6" y="38" font-family="'Liberation Sans', sans-serif" font-size="10" fill="#000" textLength="32.3" lengthAdjust="spacing" xml:space="preserve">16085.5</text>
<rect x="1357" y="27" width="9" height="1" fill="#000"/>
<rect x="1358" y="28" width="7" height="1" fill="#000"/>
<rect x="1359" y="29" width="5" height="1" fill="#000"/>
<rect x="1360" y="30" width="3" height="1" fill="#000"/>
<rect x="1361" y="31" width="1" height="1" fill="#000"/>
<rect x="1642" y="60" width="2" height="1" fill="#000"/>
<text x="1647.5" y="64" font-family="'Liberation Sans', sans-serif" font-size="10" fill="#000" textLength="32.5" lengthAdjust="spacing" xml:space="preserve">19482.0</text>
<rect x="1642" y="93" width="2" height="1" fill="#000"/>
<text x="1647.5" y="97" font-family="'Liberation Sans', sans-serif" font-size="10" fill="#000" textLength="32.5" lengthAdjust="spacing" xml:space="preserve">19202.0</text>
<rect x="1642" y="126" width="2" height="1" fill="#000"/>
<text x="1647.5" y="130" font-family="'Liberation Sans', sans-serif" font-size="10" fill="#000" textLength="32.5" lengthAdjust="spacing" xml:space="preserve">18930.0</text>
<rect x="1642" y="159" width="2" height="1" fill="#000"/>
<text x="1647.5" y="163" font-family="'Liberation Sans', sans-serif" font-size="10" fill="#000" textLength="32.5" lengthAdjust="spacing" xml:space="preserve">18650.0</text>
<rect x="1642" y="192" width="2" height="1" fill="#000"/>
<text x="1647.5" y="196" font-family="'Liberation Sans', sans-serif" font-size="10" fill="#000" textLength="32.5" lengthAdjust="spacing" xml:space="preserve">18378.0</text>
<rect x="1642" y="225" width="2" height="1" fill="#000"/>
<text x="1647.5" y="229" font-family="'Liberation Sans', sans-serif" font-size="10" fill="#000" textLength="32.5" lengthAdjust="spacing" xml:space="preserve">18098.0</text>
<rect x="1642" y="258" width="2" height="1" fill="#000"/>
<text x="1647.5" y="262" font-family="'Liberation Sans', sans-serif" font-size="10" fill="#000" textLength="32.5" lengthAdjust="spacing" xml:space="preserve">17826.0</text>
<rect x="1642" y="291" width="2" height="1" fill="#000"/>
<text x="1647.5" y="295" font-family="'Liberation Sans', sans-serif" font-size="10" fill="#000" textLength="32.5" lengthAdjust="spacing" xml:space="preserve">17546.0</text>
<rect x="1642" y="324" width="2" height="1" fill="#000"/>
<text x="1647.5" y="328" font-family="'Liberation Sans', sans-serif" font-size="10" fill="#000" textLength="32.5" lengthAdjust="spacing" xml:space="preserve">17274.0</text>
<rect x="1642" y="357" width="2" height="1" fill="#000"/>
<text x="1647.5" y="361" font-family="'Liberation Sans', sans-serif" font-size="10" fill="#000" textLength="32.5" lengthAdjust="spacing" xml:space="preserve">16994.0</text>
<rect x="1642" y="390" width="2" height="1" fill="#000"/>
<text x="1647.5" y="394" font-family="'Liberation Sans', sans-serif" font-size="10" fill="#000" textLength="32.5" lengthAdjust="spacing" xml:space="preserve">16722.0</text>
<rect x="1642" y="423" width="2" height="1" fill="#000"/>
<text x="1647.5" y="427" font-family="'Liberation Sans', sans-serif" font-size="10" fill="#000" textLength="32.5" lengthAdjust="spacing" xml:space="preserve">16442.0</text>
<rect x="1642" y="456" width="2" height="1" fill="#000"/>
<text x="1647.5" y="460" font-family="'Liberation Sans', sans-serif" font-size="10" fill="#000" textLength="32.5" lengthAdjust="spacing" xml:space="preserve">16170.0</text>
<rect x="1642" y="489" width="2" height="1" fill="#000"/>
<text x="1647.5" y="493" font-family="'Liberation Sans', sans-serif" font-size="10" fill="#000" textLength="32.5" lengthAdjust="spacing" xml:space="preserve">15890.0</text>
<rect x="1642" y="522" width="2" height="1" fill="#000"/>
<text x="1647.5" y="526" font-family="'Liberation Sans', sans-serif" font-size="10" fill="#000" textLength="32.5" lengthAdjust="spacing" xml:space="preserve">15618.0</text>
<rect x="1642" y="555" width="2" height="1" fill="#000"/>
<text x="1647.5" y="559" font-family="'Liberation Sans', sans-serif" font-size="10" fill="#000" textLength="32.5" lengthAdjust="spacing" xml:space="preserve">15338.0</text>
<rect x="1642" y="588" width="2" height="1" fill="#000"/>
<text x="1647.5" y="592" font-family="'Liberation Sans', sans-serif" font-size="10" fill="#000" textLength="32.5" lengthAdjust="spacing" xml:space="preserve">15066.0</text>
<rect x="1642" y="621" width="2" height="1" fill="#000"/>
<text x="1647.5" y="625" font-family="'Liberation Sans', sans-serif" font-size="10" fill="#000" textLength="32.5" lengthAdjust="spacing" xml:space="preserve">14786.0</text>
<rect x="1642" y="654" width="2" height="1" fill="#000"/>
<text x="1647.5" y="658" font-family="'Liberation Sans', sans-serif" font-size="10" fill="#000" textLength="32.5" lengthAdjust="spacing" xml:space="preserve">14514.0</text>
<rect x="1643" y="371" width="41" height="11" fill="#ff0000"/>
<text x="1647.8" y="380" font-family="'Liberation Sans', sans-serif" font-size="10" fill="#fff" textLength="32.1" lengthAdjust="spacing" xml:space="preserve">16827.8</text>
<rect x="1643" y="407" width="41" height="11" fill="#ff0000"/>
<text x="1647.8" y="416" font-family="'Liberation Sans', sans-serif" font-size="10" fill="#fff" textLength="32.1" lengthAdjust="spacing" xml:space="preserve">16527.2</text>
<rect x="1643" y="449" width="41" height="11" fill="#ff8c00"/>
<text x="1647.8" y="458" font-family="'Liberation Sans', sans-serif" font-size="10" fill="#fff" textLength="32.1" lengthAdjust="spacing" xml:space="preserve">16176.5</text>
<rect x="1643" y="461" width="41" height="11" fill="#000"/>
<text x="1647.8" y="470" font-family="'Liberation Sans', sans-serif" font-size="10" fill="#fff" textLength="32.1" lengthAdjust="spacing" xml:space="preserve">16085.5</text>
<rect x="1643" y="503" width="41" height="11" fill="#0000ff"/>
<text x="1647.8" y="512" font-family="'Liberation Sans', sans-serif" font-size="10" fill="#fff" textLength="32.1" lengthAdjust="spacing" xml:space="preserve">15725.7</text>
<rect x="1643" y="541" width="41" height="11" fill="#0000ff"/>
<text x="1647.8" y="550" font-family="'Liberation Sans', sans-serif" font-size="10" fill="#fff" textLength="32.1" lengthAdjust="spacing" xml:space="preserve">15408.4</text>
<g clip-path="url(#cmacd)">
<rect x="4" y="681" width="3" height="18" fill="#00ff00"/>
<rect x="20" y="681" width="3" height="16" fill="#00ff00"/>
<rect x="36" y="681" width="3" height="19" fill="#00ff00"/>
<rect x="52" y="681" width="3" height="21" fill="#00ff00"/>
<rect x="68" y="681" width="3" height="21" fill="#00ff00"/>
<rect x="84" y="681" width="3" height="20" fill="#00ff00"/>
<rect x="100" y="681" width="3" height="23" fill="#00ff00"/>
<rect x="116" y="681" width="3" height="24" fill="#00ff00"/>
<rect x="132" y="681" width="3" height="26" fill="#00ff00"/>
<rect x="148" y="681" width="3" height="27" fill="#00ff00"/>
<rect x="164" y="681" width="3" height="26" fill="#00ff00"/>
<rect x="180" y="681" width="3" height="25" fill="#00ff00"/>
<rect x="196" y="681" width="3" height="26" fill="#00ff00"/>
<rect x="212" y="681" width="3" height="27" fill="#00ff00"/>
<rect x="228" y="681" width="3" height="31" fill="#00ff00"/>
<rect x="244" y="681" width="3" height="34" fill="#00ff00"/>
<rect x="260" y="681" width="3" height="36" fill="#00ff00"/>
<rect x="276" y="681" width="3" height="39" fill="#00ff00"/>
<rect x="292" y="681" width="3" height="40" fill="#00ff00"/>
<rect x="308" y="681" width="3" height="41" fill="#00ff00"/>
<rect x="324" y="681" width="3" height="44" fill="#00ff00"/>
<rect x="340" y="681" width="3" height="44" fill="#00ff00"/>
<rect x="356" y="681" width="3" height="47" fill="#00ff00"/>
<rect x="372" y="681" width="3" height="50" fill="#00ff00"/>
<rect x="388" y="681" width="3" height="51" fill="#00ff00"/>
<rect x="404" y="681" width="3" height="53" fill="#00ff00"/>
<rect x="420" y="681" width="3" height="54" fill="#00ff00"/>
<rect x="436" y="681" width="3" height="54" fill="#00ff00"/>
<rect x="452" y="681" width="3" height="55" fill="#00ff00"/>
<rect x="468" y="681" width="3" height="55" fill="#00ff00"/>
<rect x="484" y="681" width="3" height="45" fill="#00ff00"/>
<rect x="500" y="681" width="3" height="37" fill="#00ff00"/>
<rect x="516" y="681" width="3" height="30" fill="#00ff00"/>
<rect x="532" y="681" width="3" height="25" fill="#00ff00"/>
<rect x="548" y="681" width="3" height="22" fill="#00ff00"/>
<rect x="564" y="681" width="3" height="21" fill="#00ff00"/>
<rect x="580" y="681" width="3" height="23" fill="#00ff00"/>
<rect x="596" y="681" width="3" height="26" fill="#00ff00"/>
<rect x="612" y="681" width="3" height="30" fill="#00ff00"/>
<rect x="628" y="681" width="3" height="34" fill="#00ff00"/>
<rect x="644" y="681" width="3" height="40" fill="#00ff00"/>
<rect x="660" y="681" width="3" height="42" fill="#00ff00"/>
<rect x="676" y="681" width="3" height="45" fill="#00ff00"/>
<rect x="692" y="681" width="3" height="48" fill="#00ff00"/>
<rect x="708" y="681" width="3" height="44" fill="#00ff00"/>
<rect x="724" y="681" width="3" height="45" fill="#00ff00"/>
<rect x="740" y="681" width="3" height="46" fill="#00ff00"/>
<rect x="756" y="681" width="3" height="45" fill="#00ff00"/>
<rect x="772" y="681" width="3" height="42" fill="#00ff00"/>
<rect x="788" y="681" width="3" height="38" fill="#00ff00"/>
<rect x="804" y="681" width="3" height="36" fill="#00ff00"/>
<rect x="820" y="681" width="3" height="36" fill="#00ff00"/>
<rect x="836" y="681" width="3" height="39" fill="#00ff00"/>
<rect x="852" y="681" width="3" height="39" fill="#00ff00"/>
<rect x="868" y="681" width="3" height="39" fill="#00ff00"/>
<rect x="884" y="681" width="3" height="41" fill="#00ff00"/>
<rect x="900" y="681" width="3" height="48" fill="#00ff00"/>
<rect x="916" y="681" width="3" height="55" fill="#00ff00"/>
<rect x="932" y="681" width="3" height="59" fill="#00ff00"/>
<rect x="948" y="681" width="3" height="62" fill="#00ff00"/>
<rect x="964" y="681" width="3" height="61" fill="#00ff00"/>
<rect x="980" y="681" width="3" height="61" fill="#00ff00"/>
<rect x="996" y="681" width="3" height="58" fill="#00ff00"/>
<rect x="1012" y="681" width="3" height="56" fill="#00ff00"/>
<rect x="1028" y="681" width="3" height="57" fill="#00ff00"/>
<rect x="1044" y="681" width="3" height="60" fill="#00ff00"/>
<rect x="1060" y="681" width="3" height="60" fill="#00ff00"/>
<rect x="1076" y="681" width="3" height="63" fill="#00ff00"/>
<rect x="1092" y="681" width="3" height="60" fill="#00ff00"/>
<rect x="1108" y="681" width="3" height="54" fill="#00ff00"/>
<rect x="1124" y="681" width="3" height="46" fill="#00ff00"/>
<rect x="1140" y="681" width="3" height="38" fill="#00ff00"/>
<rect x="1156" y="681" width="3" height="36" fill="#00ff00"/>
<rect x="1172" y="681" width="3" height="34" fill="#00ff00"/>
<rect x="1188" y="681" width="3" height="24" fill="#00ff00"/>
<rect x="1204" y="681" width="3" height="16" fill="#00ff00"/>
<rect x="1220" y="681" width="3" height="5" fill="#00ff00"/>
<rect x="1236" y="677" width="3" height="4" fill="#00ff00"/>
<rect x="1252" y="671" width="3" height="10" fill="#00ff00"/>
<rect x="1268" y="667" width="3" height="14" fill="#00ff00"/>
<rect x="1284" y="666" width="3" height="15" fill="#00ff00"/>
<rect x="1300" y="664" width="3" height="17" fill="#00ff00"/>
<rect x="1316" y="667" width="3" height="14" fill="#00ff00"/>
<rect x="1332" y="669" width="3" height="12" fill="#00ff00"/>
<polyline points="5,704.0 21,704.0 37,703.5 53,702.5 69,702.0 85,701.5 101,701.0 117,700.5 133,701.0 149,702.0 165,703.4 181,704.2 197,705.0 213,705.5 229,706.8 245,707.7 261,709.6 277,710.6 293,712.3 309,713.7 325,715.5 341,717.0 357,720.5 373,722.5 389,724.5 405,725.5 421,727.5 437,729.5 453,730.5 469,731.5 485,732.0 501,731.6 517,728.0 533,725.0 549,722.3 565,718.3 581,715.8 597,712.4 613,709.7 629,708.0 645,708.5 661,709.0 677,711.0 693,714.0 709,717.5 725,719.3 741,721.3 757,723.3 773,724.0 789,724.0 805,723.0 821,722.3 837,721.5 853,720.8 869,720.3 885,720.0 901,720.3 917,722.3 933,724.3 949,727.8 965,730.6 981,731.9 997,734.2 1013,735.9 1029,736.9 1045,738.9 1061,739.2 1077,739.7 1093,739.4 1109,738.9 1125,737.3 1141,735.5 1157,733.2 1173,730.6 1189,726.3 1205,721.8 1221,715.9 1237,708.1 1253,700.9 1269,693.8 1285,687.9 1301,682.7 1317,676.8 1333,674.9" fill="none" stroke="#ff0000" stroke-width="2" shape-rendering="crispEdges"/>
</g>
<text x="9.2" y="672" font-family="'Liberation Sans', sans-serif" font-size="10" fill="#000" textLength="122.3" lengthAdjust="spacing" xml:space="preserve">MACD(12,26,9) 103.10 60.47</text>
<rect x="1642" y="660" width="2" height="1" fill="#000"/>
<rect x="1642" y="681" width="2" height="1" fill="#000"/>
<rect x="1642" y="747" width="2" height="1" fill="#000"/>
<text x="1645.2" y="670" font-family="'Liberation Sans', sans-serif" font-size="10" fill="#000" textLength="27.5" lengthAdjust="spacing" xml:space="preserve">172.32</text>
<text x="1645.2" y="685" font-family="'Liberation Sans', sans-serif" font-size="10" fill="#000" textLength="17.7" lengthAdjust="spacing" xml:space="preserve">0.00</text>
<text x="1644.8" y="744" font-family="'Liberation Sans', sans-serif" font-size="10" fill="#000" textLength="26.4" lengthAdjust="spacing" xml:space="preserve">-566.3</text>
<g clip-path="url(#crsi)">
<line x1="6" y1="768.5" x2="1641" y2="768.5" stroke="#000" stroke-width="1" stroke-dasharray="3,3" shape-rendering="crispEdges"/>
<line x1="6" y1="795.5" x2="1641" y2="795.5" stroke="#000" stroke-width="1" stroke-dasharray="3,3" shape-rendering="crispEdges"/>
<line x1="6" y1="827.5" x2="1641" y2="827.5" stroke="#000" stroke-width="1" stroke-dasharray="3,3" shape-rendering="crispEdges"/>
<polyline points="5,796.0 21,798.0 37,806.6 53,806.6 69,805.0 85,805.0 101,806.0 117,807.8 133,809.3 149,809.3 165,803.8 181,803.8 197,808.6 213,808.9 229,813.4 245,812.7 261,814.2 277,815.7 293,815.2 309,814.2 325,815.7 341,812.7 357,817.7 373,818.9 389,814.2 405,815.7 421,815.7 437,815.7 453,817.0 469,817.0 485,795.0 501,795.0 517,795.2 533,796.3 549,798.2 565,800.0 581,806.6 597,807.8 613,811.2 629,812.0 645,814.8 661,812.0 677,813.7 693,813.7 709,803.8 725,807.3 741,808.6 757,807.1 773,802.9 789,801.9 805,803.1 821,804.9 837,809.3 853,807.5 869,807.1 885,807.5 901,815.2 917,816.7 933,813.7 949,814.8 965,809.0 981,809.7 997,806.0 1013,807.8 1029,810.8 1045,811.5 1061,810.3 1077,812.7 1093,807.1 1109,800.4 1125,797.5 1141,796.7 1157,800.6 1173,800.6 1189,791.1 1205,790.8 1221,787.0 1237,787.0 1253,787.8 1269,788.0 1285,791.8 1301,791.8 1317,795.9 1333,795.9" fill="none" stroke="#1e90ff" stroke-width="2" shape-rendering="crispEdges"/>
</g>
<text x="9.5" y="762" font-family="'Liberation Sans', sans-serif" font-size="10" fill="#000" textLength="67.3" lengthAdjust="spacing" xml:space="preserve">RSI(15) 50.3104</text>
<rect x="1642" y="750" width="2" height="1" fill="#000"/>
<rect x="1642" y="768" width="2" height="1" fill="#000"/>
<rect x="1642" y="795" width="2" height="1" fill="#000"/>
<rect x="1642" y="827" width="2" height="1" fill="#000"/>
<rect x="1642" y="841" width="2" height="1" fill="#000"/>
<text x="1645" y="760" font-family="'Liberation Sans', sans-serif" font-size="10" fill="#000" textLength="15.3" lengthAdjust="spacing" xml:space="preserve">100</text>
<text x="1644" y="772" font-family="'Liberation Sans', sans-serif" font-size="10" fill="#000" textLength="10.5" lengthAdjust="spacing" xml:space="preserve">80</text>
<text x="1644" y="799" font-family="'Liberation Sans', sans-serif" font-size="10" fill="#000" textLength="10.5" lengthAdjust="spacing" xml:space="preserve">50</text>
<text x="1644" y="831" font-family="'Liberation Sans', sans-serif" font-size="10" fill="#000" textLength="10.1" lengthAdjust="spacing" xml:space="preserve">15</text>
<text x="1645" y="838" font-family="'Liberation Sans', sans-serif" font-size="10" fill="#000">0</text>
<rect x="5" y="842" width="1" height="3" fill="#000"/>
<text x="4.7" y="854" font-family="'Liberation Sans', sans-serif" font-size="10" fill="#000" textLength="51.1" lengthAdjust="spacing" xml:space="preserve">13 Sep 2022</text>
<rect x="69" y="842" width="1" height="3" fill="#000"/>
<text x="68.7" y="854" font-family="'Liberation Sans', sans-serif" font-size="10" fill="#000" textLength="54.1" lengthAdjust="spacing" xml:space="preserve">15 Sep 01:15</text>
<rect x="133" y="842" width="1" height="3" fill="#000"/>
<text x="132.7" y="854" font-family="'Liberation Sans', sans-serif" font-size="10" fill="#000" textLength="54.1" lengthAdjust="spacing" xml:space="preserve">19 Sep 01:15</text>
<rect x="197" y="842" width="1" height="3" fill="#000"/>
<text x="196.7" y="854" font-family="'Liberation Sans', sans-serif" font-size="10" fill="#000" textLength="54.1" lengthAdjust="spacing" xml:space="preserve">21 Sep 01:15</text>
<rect x="261" y="842" width="1" height="3" fill="#000"/>
<text x="260.7" y="854" font-family="'Liberation Sans', sans-serif" font-size="10" fill="#000" textLength="54.1" lengthAdjust="spacing" xml:space="preserve">23 Sep 01:15</text>
<rect x="325" y="842" width="1" height="3" fill="#000"/>
<text x="324.7" y="854" font-family="'Liberation Sans', sans-serif" font-size="10" fill="#000" textLength="54.1" lengthAdjust="spacing" xml:space="preserve">27 Sep 01:15</text>
<rect x="389" y="842" width="1" height="3" fill="#000"/>
<text x="388.7" y="854" font-family="'Liberation Sans', sans-serif" font-size="10" fill="#000" textLength="54.1" lengthAdjust="spacing" xml:space="preserve">29 Sep 01:15</text>
<rect x="453" y="842" width="1" height="3" fill="#000"/>
<text x="452.7" y="854" font-family="'Liberation Sans', sans-serif" font-size="10" fill="#000" textLength="48.6" lengthAdjust="spacing" xml:space="preserve">3 Oct 01:15</text>
<rect x="517" y="842" width="1" height="3" fill="#000"/>
<text x="516.7" y="854" font-family="'Liberation Sans', sans-serif" font-size="10" fill="#000" textLength="48.6" lengthAdjust="spacing" xml:space="preserve">6 Oct 01:15</text>
<rect x="581" y="842" width="1" height="3" fill="#000"/>
<text x="580.7" y="854" font-family="'Liberation Sans', sans-serif" font-size="10" fill="#000" textLength="53.6" lengthAdjust="spacing" xml:space="preserve">10 Oct 01:15</text>
<rect x="645" y="842" width="1" height="3" fill="#000"/>
<text x="644.7" y="854" font-family="'Liberation Sans', sans-serif" font-size="10" fill="#000" textLength="53.6" lengthAdjust="spacing" xml:space="preserve">12 Oct 01:15</text>
<rect x="709" y="842" width="1" height="3" fill="#000"/>
<text x="708.7" y="854" font-family="'Liberation Sans', sans-serif" font-size="10" fill="#000" textLength="53.6" lengthAdjust="spacing" xml:space="preserve">14 Oct 01:15</text>
<rect x="773" y="842" width="1" height="3" fill="#000"/>
<text x="772.7" y="854" font-family="'Liberation Sans', sans-serif" font-size="10" fill="#000" textLength="53.6" lengthAdjust="spacing" xml:space="preserve">18 Oct 01:15</text>
<rect x="837" y="842" width="1" height="3" fill="#000"/>
<text x="836.7" y="854" font-family="'Liberation Sans', sans-serif" font-size="10" fill="#000" textLength="53.6" lengthAdjust="spacing" xml:space="preserve">20 Oct 01:15</text>
<rect x="901" y="842" width="1" height="3" fill="#000"/>
<text x="900.7" y="854" font-family="'Liberation Sans', sans-serif" font-size="10" fill="#000" textLength="53.6" lengthAdjust="spacing" xml:space="preserve">24 Oct 01:15</text>
<rect x="965" y="842" width="1" height="3" fill="#000"/>
<text x="964.7" y="854" font-family="'Liberation Sans', sans-serif" font-size="10" fill="#000" textLength="53.6" lengthAdjust="spacing" xml:space="preserve">26 Oct 01:15</text>
<rect x="1029" y="842" width="1" height="3" fill="#000"/>
<text x="1028.7" y="854" font-family="'Liberation Sans', sans-serif" font-size="10" fill="#000" textLength="53.6" lengthAdjust="spacing" xml:space="preserve">28 Oct 01:15</text>
<rect x="1093" y="842" width="1" height="3" fill="#000"/>
<text x="1092.7" y="854" font-family="'Liberation Sans', sans-serif" font-size="10" fill="#000" textLength="51.1" lengthAdjust="spacing" xml:space="preserve">1 Nov 01:15</text>
<rect x="1157" y="842" width="1" height="3" fill="#000"/>
<text x="1156.7" y="854" font-family="'Liberation Sans', sans-serif" font-size="10" fill="#000" textLength="51.1" lengthAdjust="spacing" xml:space="preserve">3 Nov 01:15</text>
<rect x="1221" y="842" width="1" height="3" fill="#000"/>
<text x="1220.7" y="854" font-family="'Liberation Sans', sans-serif" font-size="10" fill="#000" textLength="51.1" lengthAdjust="spacing" xml:space="preserve">7 Nov 01:15</text>
<rect x="1285" y="842" width="1" height="3" fill="#000"/>
<text x="1284.7" y="854" font-family="'Liberation Sans', sans-serif" font-size="10" fill="#000" textLength="51.1" lengthAdjust="spacing" xml:space="preserve">9 Nov 01:15</text>
</svg>
</body></html>
